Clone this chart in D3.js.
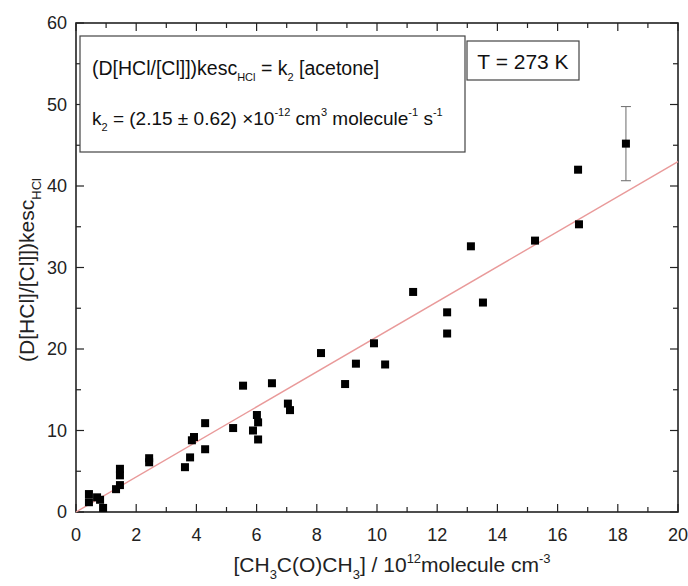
<!DOCTYPE html>
<html>
<head>
<meta charset="utf-8">
<script src="https://cdn.jsdelivr.net/npm/d3@7"></script>
<style>
  html, body { margin: 0; padding: 0; background: #fff; }
  svg { display: block; font-family: "Liberation Sans", Arial, sans-serif; }
</style>
</head>
<body>
<svg id="chart" width="688" height="586"></svg>
<script>
// acetone concentration (10^12 molecule cm^-3)
const acetone = [0.43, 0.43, 0.70, 0.80, 0.90, 1.33, 1.46, 1.46, 1.46, 2.43,
                 2.43, 3.62, 3.79, 3.85, 3.92, 4.29, 4.29, 5.22, 5.55, 6.01,
                 6.05, 5.88, 6.05, 6.51, 7.04, 7.11, 8.14, 9.30, 9.90, 10.27,
                 8.94, 11.20, 12.33, 12.33, 13.52, 13.12, 15.25, 16.68, 16.71, 18.27];
// (D[HCl]/[Cl])kesc_HCl (s^-1)
const rate = [2.2, 1.2, 1.8, 1.5, 0.5, 2.8, 3.3, 4.5, 5.3, 6.6,
              6.1, 5.5, 6.7, 8.8, 9.2, 10.9, 7.7, 10.3, 15.5, 11.9,
              11.0, 10.0, 8.9, 15.8, 13.3, 12.5, 19.5, 18.2, 20.7, 18.1,
              15.7, 27.0, 24.5, 21.9, 25.7, 32.6, 33.3, 42.0, 35.3, 45.2];
// representative error bar
const errPoint = [18.27, 45.2];
const errHalf = [4.55];
// fitted slope k2 (10^-12 cm^3 molecule^-1 s^-1)
const slope = [2.15];
const xTicks = [0, 2, 4, 6, 8, 10, 12, 14, 16, 18, 20];
const yTicks = [0, 10, 20, 30, 40, 50, 60];

const svg = d3.select("#chart");
const m = { left: 76, top: 23, right: 678, bottom: 512 };

const x = d3.scaleLinear().domain([0, 20]).range([m.left, m.right]);
const y = d3.scaleLinear().domain([0, 60]).range([m.bottom, m.top]);

const xMinor = d3.range(0, 21, 1);
const yMinor = d3.range(0, 61, 5);

// tick marks, inward on all four sides
const tickG = svg.append("g").attr("stroke", "#222").attr("stroke-width", 1.2);
xMinor.forEach(v => {
  const len = v % 2 === 0 ? 8 : 5;
  tickG.append("line").attr("x1", x(v)).attr("x2", x(v)).attr("y1", m.bottom).attr("y2", m.bottom - len);
  tickG.append("line").attr("x1", x(v)).attr("x2", x(v)).attr("y1", m.top).attr("y2", m.top + len);
});
yMinor.forEach(v => {
  const len = v % 10 === 0 ? 8 : 5;
  tickG.append("line").attr("y1", y(v)).attr("y2", y(v)).attr("x1", m.left).attr("x2", m.left + len);
  tickG.append("line").attr("y1", y(v)).attr("y2", y(v)).attr("x1", m.right).attr("x2", m.right - len);
});

// frame
svg.append("rect")
  .attr("x", m.left).attr("y", m.top)
  .attr("width", m.right - m.left).attr("height", m.bottom - m.top)
  .attr("fill", "none").attr("stroke", "#222").attr("stroke-width", 1.6);

// tick labels
svg.append("g").selectAll("text").data(xTicks).join("text")
  .attr("x", d => x(d)).attr("y", m.bottom + 29)
  .attr("text-anchor", "middle").attr("font-size", 18).attr("fill", "#222")
  .text(d => d);
svg.append("g").selectAll("text").data(yTicks).join("text")
  .attr("x", m.left - 9).attr("y", d => y(d) + 6)
  .attr("text-anchor", "end").attr("font-size", 18).attr("fill", "#222")
  .text(d => d);

// fit line through the origin
svg.append("line")
  .attr("x1", x(0)).attr("y1", y(0))
  .attr("x2", x(20)).attr("y2", y(slope[0] * 20))
  .attr("stroke", "#e99a9a").attr("stroke-width", 1.4);

// error bar
const eb = svg.append("g").attr("stroke", "#777").attr("stroke-width", 1.1);
eb.append("line").attr("x1", x(errPoint[0])).attr("x2", x(errPoint[0]))
  .attr("y1", y(errPoint[1] + errHalf[0])).attr("y2", y(errPoint[1] - errHalf[0]));
[errPoint[1] + errHalf[0], errPoint[1] - errHalf[0]].forEach(v => {
  eb.append("line").attr("x1", x(errPoint[0]) - 5).attr("x2", x(errPoint[0]) + 5)
    .attr("y1", y(v)).attr("y2", y(v));
});

// data points
const pts = acetone.map((a, i) => [a, rate[i]]);
svg.append("g").selectAll("rect").data(pts).join("rect")
  .attr("x", d => x(d[0]) - 4).attr("y", d => y(d[1]) - 4)
  .attr("width", 8).attr("height", 8).attr("fill", "#000");

// equation box
svg.append("rect").attr("x", 80).attr("y", 36).attr("width", 385).attr("height", 116)
  .attr("fill", "#fff").attr("stroke", "#444").attr("stroke-width", 1.2);
const t1 = svg.append("text").attr("x", 92).attr("y", 75).attr("font-size", 19.5).attr("fill", "#111");
t1.append("tspan").text("(D[HCl/[Cl]])kesc");
t1.append("tspan").attr("font-size", 11).attr("dy", 6).text("HCl");
t1.append("tspan").attr("dy", -6).text(" = k");
t1.append("tspan").attr("font-size", 11).attr("dy", 6).text("2");
t1.append("tspan").attr("dy", -6).text(" [acetone]");

const t2 = svg.append("text").attr("x", 92).attr("y", 125).attr("font-size", 19).attr("fill", "#111");
t2.append("tspan").text("k");
t2.append("tspan").attr("font-size", 11).attr("dy", 6).text("2");
t2.append("tspan").attr("dy", -6).text(" = (2.15 \u00b1 0.62) \u00d710");
t2.append("tspan").attr("font-size", 11).attr("dy", -9).text("-12");
t2.append("tspan").attr("dy", 9).text(" cm");
t2.append("tspan").attr("font-size", 11).attr("dy", -9).text("3");
t2.append("tspan").attr("dy", 9).text(" molecule");
t2.append("tspan").attr("font-size", 11).attr("dy", -9).text("-1");
t2.append("tspan").attr("dy", 9).text(" s");
t2.append("tspan").attr("font-size", 11).attr("dy", -9).text("-1");

// temperature box
svg.append("rect").attr("x", 467).attr("y", 41).attr("width", 112).attr("height", 39)
  .attr("fill", "#fff").attr("stroke", "#444").attr("stroke-width", 1.2);
svg.append("text").attr("x", 523).attr("y", 69).attr("text-anchor", "middle")
  .attr("font-size", 21).attr("fill", "#111").text("T = 273 K");

// x axis title
const xt = svg.append("text").attr("x", 392).attr("y", 572).attr("text-anchor", "middle")
  .attr("font-size", 21).attr("fill", "#222");
xt.append("tspan").text("[CH");
xt.append("tspan").attr("font-size", 13).attr("dy", 7).text("3");
xt.append("tspan").attr("dy", -7).text("C(O)CH");
xt.append("tspan").attr("font-size", 13).attr("dy", 7).text("3");
xt.append("tspan").attr("dy", -7).text("] / 10");
xt.append("tspan").attr("font-size", 13).attr("dy", -9).text("12");
xt.append("tspan").attr("dy", 9).text("molecule cm");
xt.append("tspan").attr("font-size", 13).attr("dy", -9).text("-3");

// y axis title
const yt = svg.append("text").attr("transform", "translate(34,270) rotate(-90)")
  .attr("text-anchor", "middle").attr("font-size", 21).attr("fill", "#222");
yt.append("tspan").text("(D[HCl]/[Cl]])kesc");
yt.append("tspan").attr("font-size", 13).attr("dy", 7).text("HCl");
</script>
</body>
</html>
